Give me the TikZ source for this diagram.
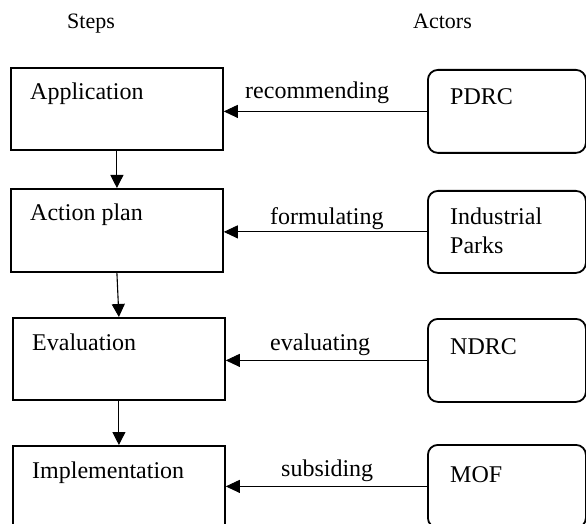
\documentclass[tikz,border=0pt]{standalone}
\usepackage{fontspec}
\setmainfont{Liberation Serif}
\usetikzlibrary{arrows.meta}
\begin{document}
\begin{tikzpicture}[x=1bp,y=-1bp,
  stepbox/.style={draw,line width=1.8bp,rectangle,inner sep=0pt,anchor=north west,minimum width=212bp,minimum height=82bp},
  actorbox/.style={draw,line width=1.8bp,rectangle,rounded corners=10bp,inner sep=0pt,anchor=north west,minimum width=158bp,minimum height=83bp},
  txt/.style={anchor=base west,inner sep=0pt,align=left,font=\fontsize{24bp}{28bp}\selectfont},
  head/.style={anchor=base west,inner sep=0pt,font=\fontsize{22bp}{26bp}\selectfont},
  flow/.style={line width=1.1bp,-{Triangle[length=13bp,width=13bp]}},
  link/.style={line width=0.9bp,-{Triangle[length=14bp,width=13bp]}}]
\useasboundingbox (0,0) rectangle (586,524);
\clip (0,0) rectangle (586,524);
% headers
\node[head] (hs) at (67,29) {Steps};
\node[head] (ha) at (413,29) {Actors};
% steps
\node[stepbox] (s1) at (10,67) {};
\node[stepbox,minimum height=83bp] (s2) at (10,188) {};
\node[stepbox] (s3) at (12,317) {};
\node[stepbox] (s4) at (12,445) {};
\node[txt] (t1) at (30,100) {Application};
\node[txt] (t2) at (30,221) {Action plan};
\node[txt] (t3) at (32,350) {Evaluation};
\node[txt] (t4) at (32,478) {Implementation};
% actors
\node[actorbox] (a1) at (427,69) {};
\node[actorbox,minimum height=82bp] (a2) at (427,190) {};
\node[actorbox] (a3) at (427,318) {};
\node[actorbox] (a4) at (427,444) {};
\node[txt] (u1) at (450,105) {PDRC};
\node[txt] (u2) at (450,253) {Industrial\\Parks};
\node[txt] (u3) at (450,354) {NDRC};
\node[txt] (u4) at (450,482) {MOF};
% step flow
\draw[flow] (s1.south) -- (s2.north);
\draw[flow] (s2.south) -- (s3.north);
\draw[flow] (s3.south) -- (s4.north);
% actor links
\draw[link] (a1.west) -- (a1.west -| s1.east);
\draw[link] (a2.west) -- (a2.west -| s2.east);
\draw[link] (a3.west) -- (a3.west -| s3.east);
\draw[link] (a4.west) -- (a4.west -| s4.east);
% link labels
\node[txt] (l1) at (245,99) {recommending};
\node[txt] (l2) at (270,225) {formulating};
\node[txt] (l3) at (270,350) {evaluating};
\node[txt] (l4) at (281,476) {subsiding};
\end{tikzpicture}
\end{document}
